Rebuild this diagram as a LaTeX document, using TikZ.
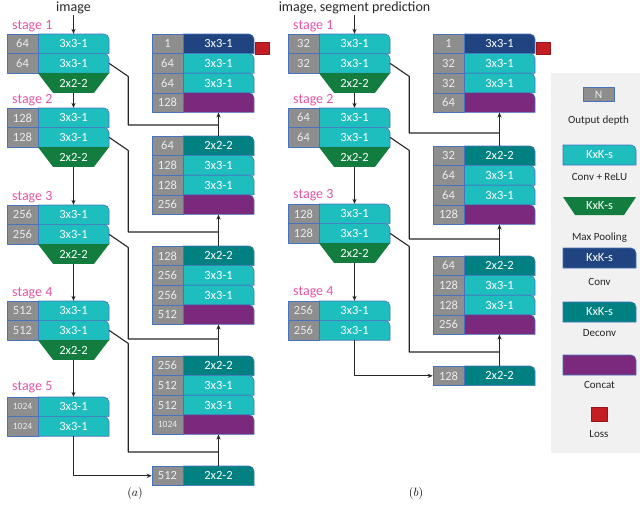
\documentclass[tikz,border=0pt]{standalone}
\usepackage{fontspec}
\setmainfont{Carlito}
\usetikzlibrary{arrows.meta}
\definecolor{depthgray}{RGB}{142,142,142}
\definecolor{edgeblue}{RGB}{70,114,190}
\definecolor{convteal}{RGB}{31,190,190}
\definecolor{poolgreen}{RGB}{18,125,62}
\definecolor{outblue}{RGB}{31,68,128}
\definecolor{upteal}{RGB}{0,128,128}
\definecolor{catpurple}{RGB}{123,41,125}
\definecolor{lossred}{RGB}{196,30,36}
\definecolor{stagepink}{RGB}{226,84,164}
\definecolor{panelgray}{RGB}{241,241,241}

\newcommand{\smalldepth}{\fontsize{9.5}{9.5}\selectfont}
% one layer: name, left x, top y, depth, kernel text, colour
\newcommand{\netrow}[6]{%
  \filldraw[fill=#6,draw=edgeblue,line width=0.6pt]
    (#2+31,#3+19.6) -- (#2+31,#3) -- (#2+97,#3)
    arc[start angle=90,end angle=0,radius=5pt] -- (#2+102,#3+19.6) -- cycle;
  \node[depthcell] (#1-n) at (#2+15.5,#3+9.8) {#4};
  \node[opcell] (#1) at (#2+66.5,#3+9.8) {#5};
}
% max pooling below a stage: name, left x, top y
\newcommand{\poolrow}[3]{%
  \fill[poolgreen] (#2+31,#3) -- (#2+102,#3) -- (#2+87,#3+19.6) -- (#2+46,#3+19.6) -- cycle;
  \node[opcell,minimum width=41] (#1) at (#2+66.5,#3+9.8) {2x2-2};
}
% legend box: name, top y, colour, text
\newcommand{\legbox}[4]{%
  \filldraw[fill=#3,draw=edgeblue,line width=0.6pt]
    (563,#2+20) -- (563,#2) -- (631,#2)
    arc[start angle=90,end angle=0,radius=5pt] -- (636,#2+20) -- cycle;
  \node[opcell,minimum width=73,minimum height=20] (#1) at (599.5,#2+10) {#4};
}

\tikzset{
  depthcell/.style={rectangle,fill=depthgray,draw=edgeblue,line width=0.6pt,
    minimum width=31,minimum height=19.6,inner sep=0pt,text=white!92!black,
    font=\fontsize{12.5}{12.5}\selectfont},
  opcell/.style={rectangle,minimum width=71,minimum height=19.6,inner sep=0pt,
    text=white,font=\fontsize{12.5}{12.5}\selectfont},
  skipline/.style={black!85,line width=1.1pt},
  flowarrow/.style={skipline,-{Stealth[length=5pt,width=4.2pt]}},
  stagelab/.style={font=\fontsize{14}{14}\selectfont,text=stagepink,anchor=west,inner sep=0pt},
  toplab/.style={font=\fontsize{14}{14}\selectfont,text=black!85,inner sep=1pt},
  legtext/.style={font=\fontsize{11}{11}\selectfont,text=black!85,inner sep=0pt},
}

\begin{document}
\begin{tikzpicture}[x=1pt,y=-1pt,line join=round]
\useasboundingbox (0,0) rectangle (640,506);

% ---- (a) ----
\node[toplab] (imga) at (73.5,8) {image};
\node[stagelab] (sta1) at (12,26) {stage 1};
\netrow{a1a}{7}{34}{64}{3x3-1}{convteal}
\netrow{a1b}{7}{53.6}{64}{3x3-1}{convteal}
\poolrow{ap1}{7}{73.2}
\node[stagelab] (sta2) at (12,100) {stage 2};
\netrow{a2a}{7}{108}{128}{3x3-1}{convteal}
\netrow{a2b}{7}{127.6}{128}{3x3-1}{convteal}
\poolrow{ap2}{7}{147.2}
\node[stagelab] (sta3) at (12,197) {stage 3};
\netrow{a3a}{7}{205}{256}{3x3-1}{convteal}
\netrow{a3b}{7}{224.6}{256}{3x3-1}{convteal}
\poolrow{ap3}{7}{244.2}
\node[stagelab] (sta4) at (12,293) {stage 4};
\netrow{a4a}{7}{301}{512}{3x3-1}{convteal}
\netrow{a4b}{7}{320.6}{512}{3x3-1}{convteal}
\poolrow{ap4}{7}{340.2}
\node[stagelab] (sta5) at (12,387) {stage 5};
\netrow{a5a}{7}{397}{\smalldepth 1024}{3x3-1}{convteal}
\netrow{a5b}{7}{416.6}{\smalldepth 1024}{3x3-1}{convteal}

\netrow{ad1a}{152}{34}{1}{3x3-1}{outblue}
\netrow{ad1b}{152}{53.6}{64}{3x3-1}{convteal}
\netrow{ad1c}{152}{73.2}{64}{3x3-1}{convteal}
\netrow{ad1d}{152}{92.8}{128}{}{catpurple}
\netrow{ad2a}{152}{136}{64}{2x2-2}{upteal}
\netrow{ad2b}{152}{155.6}{128}{3x3-1}{convteal}
\netrow{ad2c}{152}{175.2}{128}{3x3-1}{convteal}
\netrow{ad2d}{152}{194.8}{256}{}{catpurple}
\netrow{ad3a}{152}{246}{128}{2x2-2}{upteal}
\netrow{ad3b}{152}{265.6}{256}{3x3-1}{convteal}
\netrow{ad3c}{152}{285.2}{256}{3x3-1}{convteal}
\netrow{ad3d}{152}{304.8}{512}{}{catpurple}
\netrow{ad4a}{152}{356}{256}{2x2-2}{upteal}
\netrow{ad4b}{152}{375.6}{512}{3x3-1}{convteal}
\netrow{ad4c}{152}{395.2}{512}{3x3-1}{convteal}
\netrow{ad4d}{152}{414.8}{\smalldepth 1024}{}{catpurple}
\netrow{ad5a}{152}{466}{512}{2x2-2}{upteal}
\filldraw[fill=lossred,draw=lossred!75!black,line width=0.4pt] (255,42) rectangle (269,54);

\coordinate (ja1) at (218.5,125);
\coordinate (ja2) at (218.5,232);
\coordinate (ja3) at (218.5,339);
\coordinate (ja4) at (218.5,452);
\draw[flowarrow] (imga) -- (a1a);
\draw[flowarrow] (ap1) -- (a2a);
\draw[flowarrow] (ap2) -- (a3a);
\draw[flowarrow] (ap3) -- (a4a);
\draw[flowarrow] (ap4) -- (a5a);
\draw[skipline] (a1b.east) -- ++(19,13) |- (ja1);
\draw[skipline] (a2b.east) -- ++(19,13) |- (ja2);
\draw[skipline] (a3b.east) -- ++(19,13) |- (ja3);
\draw[skipline] (a4b.east) -- ++(19,13) |- (ja4);
\draw[flowarrow] (a5b) |- (ad5a-n);
\draw[flowarrow] (ad2a) -- (ad1d);
\draw[flowarrow] (ad3a) -- (ad2d);
\draw[flowarrow] (ad4a) -- (ad3d);
\draw[flowarrow] (ad5a) -- (ad4d);
\node[font=\fontsize{13}{13}\selectfont] (capa) at (135,493) {$(a)$};

% ---- (b) ----
\node[toplab] (imgb) at (354.5,8) {image, segment prediction};
\node[stagelab] (stb1) at (293,26) {stage 1};
\netrow{b1a}{288}{34}{32}{3x3-1}{convteal}
\netrow{b1b}{288}{53.6}{32}{3x3-1}{convteal}
\poolrow{bp1}{288}{73.2}
\node[stagelab] (stb2) at (293,100) {stage 2};
\netrow{b2a}{288}{108}{64}{3x3-1}{convteal}
\netrow{b2b}{288}{127.6}{64}{3x3-1}{convteal}
\poolrow{bp2}{288}{147.2}
\node[stagelab] (stb3) at (293,195) {stage 3};
\netrow{b3a}{288}{204}{128}{3x3-1}{convteal}
\netrow{b3b}{288}{223.6}{128}{3x3-1}{convteal}
\poolrow{bp3}{288}{243.2}
\node[stagelab] (stb4) at (293,292) {stage 4};
\netrow{b4a}{288}{301}{256}{3x3-1}{convteal}
\netrow{b4b}{288}{320.6}{256}{3x3-1}{convteal}

\netrow{bd1a}{433}{34}{1}{3x3-1}{outblue}
\netrow{bd1b}{433}{53.6}{32}{3x3-1}{convteal}
\netrow{bd1c}{433}{73.2}{32}{3x3-1}{convteal}
\netrow{bd1d}{433}{92.8}{64}{}{catpurple}
\netrow{bd2a}{433}{146}{32}{2x2-2}{upteal}
\netrow{bd2b}{433}{165.6}{64}{3x3-1}{convteal}
\netrow{bd2c}{433}{185.2}{64}{3x3-1}{convteal}
\netrow{bd2d}{433}{204.8}{128}{}{catpurple}
\netrow{bd3a}{433}{256}{64}{2x2-2}{upteal}
\netrow{bd3b}{433}{275.6}{128}{3x3-1}{convteal}
\netrow{bd3c}{433}{295.2}{128}{3x3-1}{convteal}
\netrow{bd3d}{433}{314.8}{256}{}{catpurple}
\netrow{bd4a}{433}{366}{128}{2x2-2}{upteal}
\filldraw[fill=lossred,draw=lossred!75!black,line width=0.4pt] (536,42) rectangle (550,54);

\coordinate (jb1) at (499.5,133);
\coordinate (jb2) at (499.5,239);
\coordinate (jb3) at (499.5,352);
\draw[flowarrow] (imgb) -- (b1a);
\draw[flowarrow] (bp1) -- (b2a);
\draw[flowarrow] (bp2) -- (b3a);
\draw[flowarrow] (bp3) -- (b4a);
\draw[skipline] (b1b.east) -- ++(19,13) |- (jb1);
\draw[skipline] (b2b.east) -- ++(19,13) |- (jb2);
\draw[skipline] (b3b.east) -- ++(19,13) |- (jb3);
\draw[flowarrow] (b4b) |- (bd4a-n);
\draw[flowarrow] (bd2a) -- (bd1d);
\draw[flowarrow] (bd3a) -- (bd2d);
\draw[flowarrow] (bd4a) -- (bd3d);
\node[font=\fontsize{13}{13}\selectfont] (capb) at (416,493) {$(b)$};

% ---- legend ----
\fill[panelgray] (551,73) rectangle (640,453);
\node[depthcell,minimum height=13.5,font=\fontsize{11.5}{11.5}\selectfont] (lgn) at (598.5,94.5) {N};
\node[legtext] (lgnt) at (598.5,121) {Output depth};
\legbox{lgc}{145}{convteal}{KxK-s}
\node[legtext] (lgct) at (599.5,177) {Conv + ReLU};
\fill[poolgreen] (563,197) -- (636,197) -- (624,215) -- (575,215) -- cycle;
\node[opcell,minimum width=49,minimum height=18] (lgp) at (599.5,206) {KxK-s};
\node[legtext] (lgpt) at (599.5,238) {Max Pooling};
\legbox{lgo}{248}{outblue}{KxK-s}
\node[legtext] (lgot) at (599.5,282) {Conv};
\legbox{lgu}{302}{upteal}{KxK-s}
\node[legtext] (lgut) at (599.5,333) {Deconv};
\legbox{lgk}{355}{catpurple}{}
\node[legtext] (lgkt) at (599.5,385) {Concat};
\filldraw[fill=lossred,draw=lossred!75!black,line width=0.4pt] (591,407) rectangle (607,421);
\node[legtext] (lglt) at (599,434) {Loss};
\end{tikzpicture}
\end{document}
